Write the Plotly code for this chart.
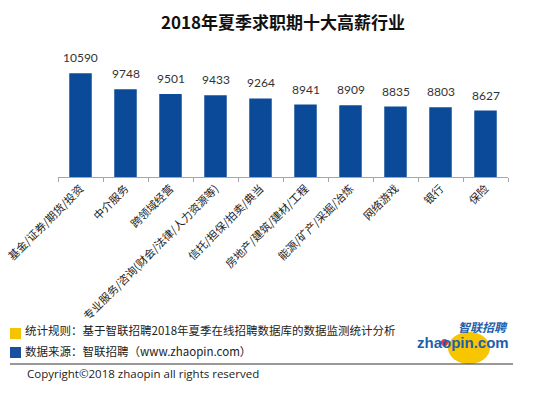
import plotly.graph_objects as go

categories = ["基金/证券/期货/投资", "中介服务", "跨领域经营", "专业服务/咨询(财会/法律/人力资源等)",
              "信托/担保/拍卖/典当", "房地产/建筑/建材/工程", "能源/矿产/采掘/冶炼", "网络游戏", "银行", "保险"]
values = [10590, 9748, 9501, 9433, 9264, 8941, 8909, 8835, 8803, 8627]

title_text = "2018年夏季求职期十大高薪行业"
note1 = "统计规则：基于智联招聘2018年夏季在线招聘数据库的数据监测统计分析"
note2 = "数据来源：智联招聘（www.zhaopin.com）"
copyright_text = "Copyright©2018 zhaopin all rights reserved"

FONT = "Noto Sans CJK SC"
BLUE = "#0b4a99"

fig = go.Figure(go.Bar(
    x=categories, y=values, marker=dict(color=BLUE, line=dict(width=0)),
    hoverinfo="x+y",
))

W, H = 550, 394
L, R, T, B = 58, 42, 40, 217
PW, PH = W - L - R, H - T - B

fig.update_layout(
    width=W, height=H, paper_bgcolor="white", plot_bgcolor="white",
    margin=dict(l=L, r=R, t=T, b=B, autoexpand=False),
    bargap=0.5, showlegend=False,
    font=dict(family=FONT, color="#222"),
)
fig.update_xaxes(
    showline=True, linecolor="#a6a6a6", linewidth=1, ticks="outside", tickson="boundaries",
    ticklen=4, tickcolor="#a6a6a6", tickangle=-45, tickfont=dict(size=11, family=FONT, color="#222"),
    showgrid=False, automargin=False,
)
fig.update_yaxes(range=[5130, 12336], visible=False, showgrid=False, automargin=False)

def px_x(p):
    return (p - L) / PW

def px_y(p):
    return (H - B - p) / PH

ann = []
for c, v in zip(categories, values):
    ann.append(dict(text=str(v), x=c, y=v, xref="x", yref="y", showarrow=False, yanchor="bottom",
                    yshift=6, font=dict(size=12, family="Lato, Liberation Sans", color="#333")))

ann.append(dict(text="<b>" + title_text + "</b>", x=px_x(283), y=px_y(22), xref="paper", yref="paper",
                showarrow=False, font=dict(size=17, family=FONT, color="#111"), xanchor="center", yanchor="middle"))
ann.append(dict(text=note1, x=px_x(23), y=px_y(330), xref="paper", yref="paper", showarrow=False,
                font=dict(size=11.5, family=FONT, color="#222"), xanchor="left", yanchor="middle"))
ann.append(dict(text=note2, x=px_x(23), y=px_y(351), xref="paper", yref="paper", showarrow=False,
                font=dict(size=11.5, family=FONT, color="#222"), xanchor="left", yanchor="middle"))
ann.append(dict(text=copyright_text, x=px_x(25), y=px_y(373), xref="paper", yref="paper", showarrow=False,
                font=dict(size=11.5, family="Open Sans, Noto Sans", color="#222"), xanchor="left", yanchor="middle"))
# logo text
ann.append(dict(text="<b><i>智联招聘</i></b>", x=px_x(510), y=px_y(327), xref="paper", yref="paper", showarrow=False,
                font=dict(size=12, family=FONT, color="#1f5fae"), xanchor="right", yanchor="middle"))
ann.append(dict(text="<b>zhaopin.com</b>", x=px_x(511), y=px_y(342), xref="paper", yref="paper", showarrow=False,
                font=dict(size=15, family="Liberation Sans", color="#1f5fae"), xanchor="right", yanchor="middle"))

shapes = []
def rect_px(x0, y0, x1, y1, color):
    return dict(type="rect", xref="paper", yref="paper", x0=px_x(x0), x1=px_x(x1), y0=px_y(y1), y1=px_y(y0),
                fillcolor=color, line=dict(width=0), layer="above")

shapes.append(rect_px(10, 328, 21, 339, "#f5c400"))
shapes.append(rect_px(10, 347, 21, 358, "#1a4fa0"))
shapes.append(dict(type="line", xref="paper", yref="paper", x0=px_x(10), x1=px_x(513), y0=px_y(364), y1=px_y(364),
                   line=dict(color="#333", width=1.2)))
shapes.append(dict(type="circle", xref="paper", yref="paper", x0=px_x(448), x1=px_x(490), y0=px_y(364), y1=px_y(332),
                   fillcolor="#f7c600", line=dict(width=0), layer="below"))
shapes.append(dict(type="circle", xref="paper", yref="paper", x0=px_x(441), x1=px_x(448), y0=px_y(346), y1=px_y(339),
                   fillcolor="#e23a2a", line=dict(width=0), layer="below"))

fig.update_layout(annotations=ann, shapes=shapes)
fig.write_html("out.html", config={"displayModeBar": False},
               post_script="document.body.style.margin='0';document.body.style.padding='0';")
